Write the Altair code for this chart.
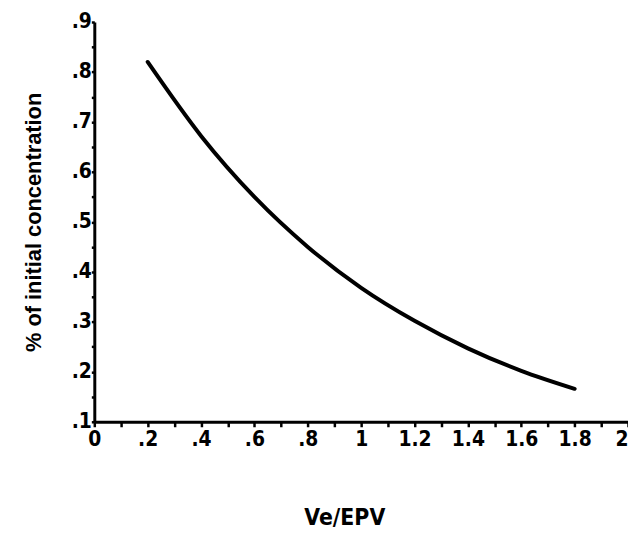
import altair as alt
import pandas as pd

ve_epv = [0.2, 0.4, 0.6, 0.8, 1.0, 1.2, 1.4, 1.6, 1.8]
pct_initial = [0.82, 0.672, 0.55, 0.45, 0.368, 0.302, 0.247, 0.202, 0.166]

x_tick_values = [round(i * 0.1, 1) for i in range(21)]
x_tick_labels = ["0", "", ".2", "", ".4", "", ".6", "", ".8", "", "1", "",
                 "1.2", "", "1.4", "", "1.6", "", "1.8", "", "2"]
y_tick_values = [round(0.1 + i * 0.05, 2) for i in range(17)]
y_tick_labels = [".1", "", ".2", "", ".3", "", ".4", "", ".5", "", ".6", "",
                 ".7", "", ".8", "", ".9"]


def label_expr(values, labels):
    expr = "''"
    for v, l in reversed(list(zip(values, labels))):
        expr = f"abs(datum.value - {v}) < 0.001 ? '{l}' : ({expr})"
    return expr


df = pd.DataFrame({"x": ve_epv, "y": pct_initial})

FONT = "DejaVu Sans Condensed"

line = alt.Chart(df).mark_line(
    color="black", strokeWidth=4, interpolate="monotone", strokeCap="round"
).encode(
    x=alt.X("x:Q", scale=alt.Scale(domain=[0, 2], nice=False),
            axis=alt.Axis(values=x_tick_values,
                          labelExpr=label_expr(x_tick_values, x_tick_labels),
                          labelAlign={"condition": {"test": "datum.value > 1.95", "value": "right"},
                                      "value": "center"},
                          title="Ve/EPV", grid=False, domainWidth=3,
                          domainColor="black", tickColor="black", tickWidth=2.5,
                          tickSize=5, labelFont=FONT, labelFontWeight="bold",
                          labelFontSize=21, labelColor="black", labelPadding=2,
                          labelFlush=False, labelOverlap=False,
                          titleFont=FONT, titleFontSize=23, titleFontWeight="bold",
                          titleColor="black", titlePadding=58, titleX=252)),
    y=alt.Y("y:Q", scale=alt.Scale(domain=[0.1, 0.9], nice=False),
            axis=alt.Axis(values=y_tick_values,
                          labelExpr=label_expr(y_tick_values, y_tick_labels),
                          title="% of initial concentration", grid=False,
                          domainWidth=3, domainColor="black", tickColor="black",
                          tickWidth=2.5, tickSize=3, labelFont=FONT,
                          labelFontWeight="bold", labelFontSize=21,
                          labelColor="black", labelPadding=0, labelFlush=False,
                          labelOverlap=False,
                          titleFont="Liberation Sans", titleFontSize=22,
                          titleFontWeight="bold", titleColor="black",
                          titlePadding=26)),
)

chart = line.properties(
    width=538, height=403,
    autosize=alt.AutoSizeParams(type="none"),
    padding={"left": 87, "top": 12, "right": 0, "bottom": 113},
).configure(background="white").configure_view(stroke=None)

chart.save("out.html", embed_options={"renderer": "svg", "actions": False})
